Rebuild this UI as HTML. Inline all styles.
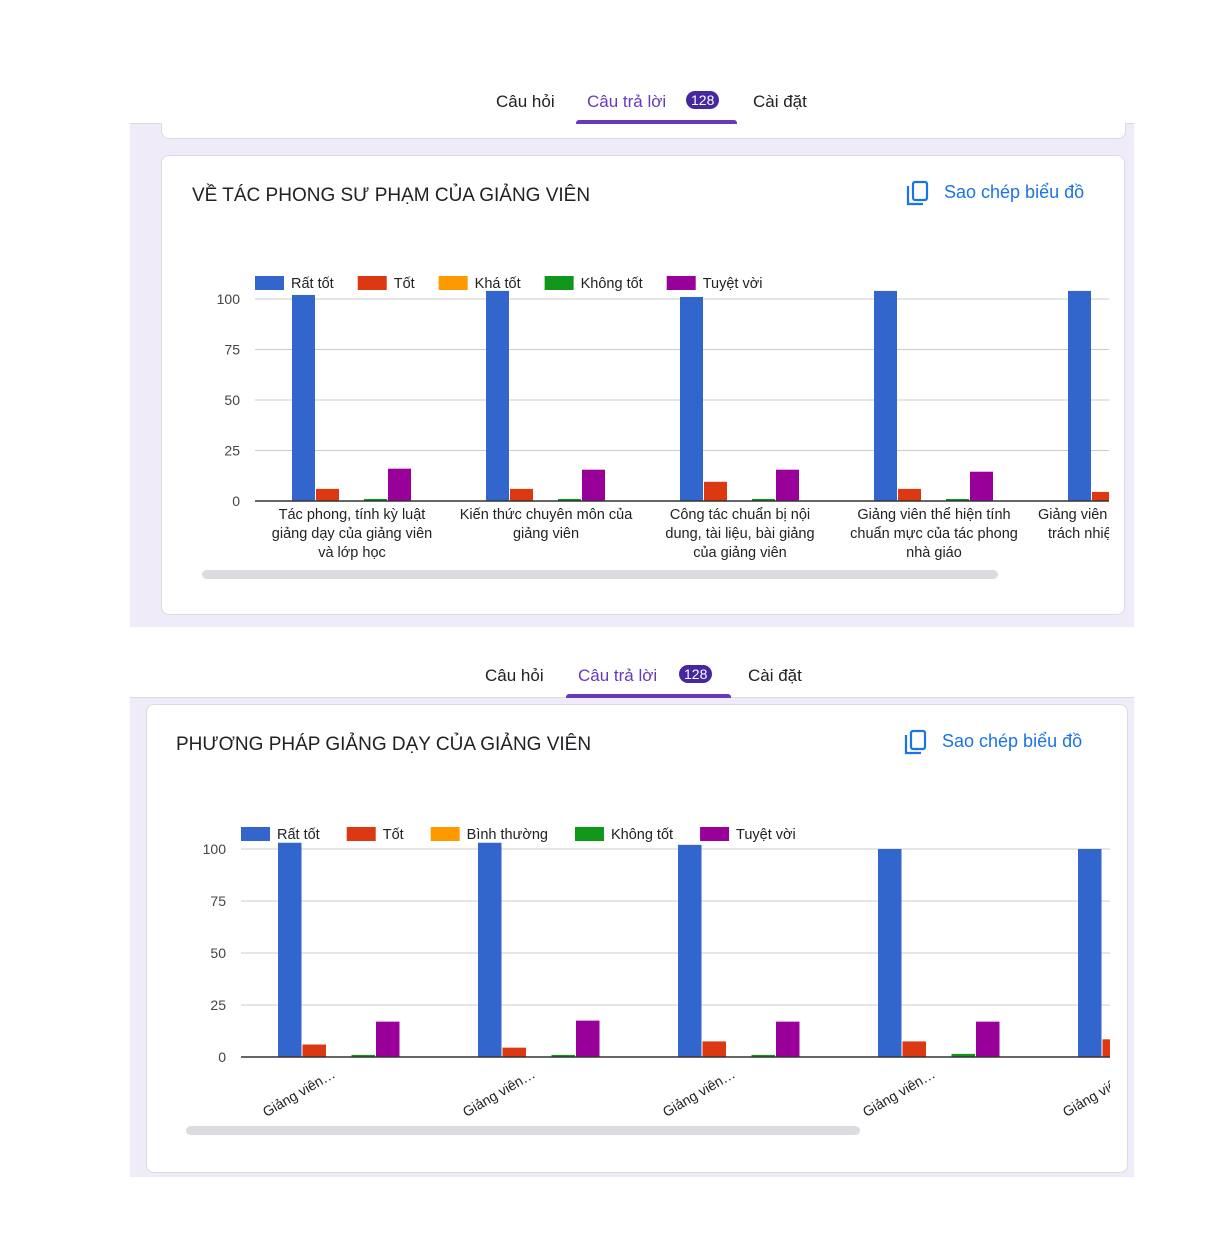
<!DOCTYPE html>
<html><head><meta charset="utf-8">
<style>
body{margin:0;width:1215px;height:1241px;background:#fff;position:relative;overflow:hidden;font-family:"Liberation Sans",sans-serif;}
.abs{position:absolute;}
.bg{background:#f0ebf8;}
.card{background:#fff;border:1px solid #dadce0;border-radius:8px;}
.tab{font-size:17px;color:#202124;}
.tab.act{color:#673ab7;}
.badge{background:#4527a0;color:#fff;border-radius:10px;font-size:14px;padding:1px 5px;}
.title{font-size:19px;color:#202124;}
.copy{font-size:18px;color:#1a73e8;}
svg text{font-family:"Liberation Sans",sans-serif;}
</style></head><body>
<div class="abs bg" style="left:130px;top:124px;width:1004px;height:503px"></div>
<div class="abs" style="left:130px;top:123px;width:1004px;height:1px;background:#dadce0"></div>
<div class="abs card" style="left:161px;top:110px;width:963px;height:28px;border-top:none;border-radius:0 0 8px 8px"></div>
<div class="abs" style="left:0;top:80px;width:1215px;height:43px;background:#fff"></div>
<span class="abs tab" style="left:496px;top:92px">Câu hỏi</span>
<span class="abs tab act" style="left:587px;top:92px">Câu trả lời</span>
<span class="abs badge" style="left:686px;top:91px">128</span>
<span class="abs tab" style="left:753px;top:92px">Cài đặt</span>
<div class="abs" style="left:576px;top:120px;width:161px;height:4px;background:#673ab7;border-radius:3px 3px 0 0"></div>
<div class="abs card" style="left:161px;top:155px;width:962px;height:458px"></div>
<span class="abs title" style="left:192px;top:185px">VỀ TÁC PHONG SƯ PHẠM CỦA GIẢNG VIÊN</span>
<svg class="abs" style="left:906px;top:180px" width="24" height="26"><rect x="7" y="2" width="14" height="18" rx="2" fill="none" stroke="#1a73e8" stroke-width="2.2"/><path d="M2 6 V24 H17" fill="none" stroke="#1a73e8" stroke-width="2.2"/></svg>
<span class="abs copy" style="left:944px;top:182px">Sao chép biểu đồ</span>

<div class="abs" style="left:0;top:627px;width:1215px;height:70px;background:#fff"></div>
<div class="abs bg" style="left:130px;top:698px;width:1004px;height:479px"></div>
<div class="abs" style="left:130px;top:697px;width:1004px;height:1px;background:#dadce0"></div>
<span class="abs tab" style="left:485px;top:666px">Câu hỏi</span>
<span class="abs tab act" style="left:578px;top:666px">Câu trả lời</span>
<span class="abs badge" style="left:679px;top:665px">128</span>
<span class="abs tab" style="left:748px;top:666px">Cài đặt</span>
<div class="abs" style="left:566px;top:694px;width:165px;height:4px;background:#673ab7;border-radius:3px 3px 0 0"></div>
<div class="abs card" style="left:146px;top:704px;width:980px;height:467px"></div>
<span class="abs title" style="left:176px;top:734px">PHƯƠNG PHÁP GIẢNG DẠY CỦA GIẢNG VIÊN</span>
<svg class="abs" style="left:904px;top:729px" width="24" height="26"><rect x="7" y="2" width="14" height="18" rx="2" fill="none" stroke="#1a73e8" stroke-width="2.2"/><path d="M2 6 V24 H17" fill="none" stroke="#1a73e8" stroke-width="2.2"/></svg>
<span class="abs copy" style="left:942px;top:731px">Sao chép biểu đồ</span>

<svg id="chart1" class="abs" style="left:0;top:0" width="1215" height="1241"></svg>
<svg id="chart2" class="abs" style="left:0;top:0" width="1215" height="1241"></svg>

<script>
const colors=["#3366cc","#dc3912","#ff9900","#109618","#990099"];
const series1Names=["Rất tốt","Tốt","Khá tốt","Không tốt","Tuyệt vời"];
const series2Names=["Rất tốt","Tốt","Bình thường","Không tốt","Tuyệt vời"];
const categories1=[["Tác phong, tính kỳ luật","giảng dạy của giảng viên","và lớp học"],["Kiến thức chuyên môn của","giảng viên"],["Công tác chuẩn bị nội","dung, tài liệu, bài giảng","của giảng viên"],["Giảng viên thể hiện tính","chuẩn mực của tác phong","nhà giáo"],["Giảng viên","trách nhiệm"]];
const categories2=["Giảng viên…","Giảng viên…","Giảng viên…","Giảng viên…","Giảng viên…"];
const ticks=[0,25,50,75,100];
const c1RatTot=[102,104,101,104,104];
const c1Tot=[6,6,9.5,6,4.5];
const c1KhaTot=[0,0,0,0,0];
const c1KhongTot=[1,1,1,1,0];
const c1TuyetVoi=[16,15.5,15.5,14.5,0];
const c2RatTot=[103,103,102,100,100];
const c2Tot=[6,4.5,7.5,7.5,8.5];
const c2BinhThuong=[0,0,0,0,0];
const c2KhongTot=[1,1,1,1.5,0];
const c2TuyetVoi=[17,17.5,17,17,0];

const NS="http://www.w3.org/2000/svg";
function mk(svg,tag,attrs){const e=document.createElementNS(NS,tag);for(const k in attrs)e.setAttribute(k,attrs[k]);svg.appendChild(e);return e;}

function draw(cfg){
  const svg=document.getElementById(cfg.id);
  const y=v=>cfg.y0-v*cfg.ppu;
  const x=(g,s)=>cfg.gx0+g*cfg.gw+s*cfg.bw;
  const defs=mk(svg,"defs",{});
  const cp=document.createElementNS(NS,"clipPath");cp.setAttribute("id",cfg.id+"clip");defs.appendChild(cp);
  const r=document.createElementNS(NS,"rect");r.setAttribute("x",cfg.xl);r.setAttribute("y",0);r.setAttribute("width",cfg.xr-cfg.xl);r.setAttribute("height",1241);cp.appendChild(r);
  ticks.forEach(t=>{
    if(t>0){const gl=mk(svg,"line",{x1:cfg.xl,x2:cfg.xr,y1:y(t),y2:y(t),stroke:"#ccc","stroke-width":1});
    
    }
    const tl=mk(svg,"text",{x:cfg.xl-15,y:y(t)+5,"text-anchor":"end","font-size":14,fill:"#444"});tl.textContent=t;
    
    
  });
  const g=mk(svg,"g",{"clip-path":"url(#"+cfg.id+"clip)"});
  cfg.series.forEach((arr,s)=>{
    arr.forEach((v,i)=>{
      if(v<=0)return;
      const b=mk(g,"rect",{x:x(i,s),y:y(v),width:cfg.bw-1,height:v*cfg.ppu,fill:colors[s]});
      
      
    });
  });
  const ax=mk(svg,"line",{x1:cfg.xl,x2:cfg.xr,y1:cfg.y0,y2:cfg.y0,stroke:"#333","stroke-width":1.5});
  
  
  let lx=cfg.legX;
  cfg.names.forEach((n,s)=>{
    const sw=mk(svg,"rect",{x:lx,y:cfg.legY-7,width:29,height:14,fill:colors[s]});
    
    
    const t=mk(svg,"text",{x:lx+36,y:cfg.legY+5,"font-size":14.5,fill:"#222"});t.textContent=n;
    
    
    lx+=36+t.getComputedTextLength()+cfg.legGap;
  });
  const cp2=document.createElementNS(NS,"clipPath");cp2.setAttribute("id",cfg.id+"clip2");defs.appendChild(cp2);
  const r2=document.createElementNS(NS,"rect");r2.setAttribute("x",cfg.xl-100);r2.setAttribute("y",0);r2.setAttribute("width",cfg.xr-cfg.xl+100);r2.setAttribute("height",1241);cp2.appendChild(r2);
  const lg=mk(svg,"g",{"clip-path":"url(#"+cfg.id+"clip2)"});
  cfg.cats.forEach((c,i)=>{
    const cx=x(i,0)+cfg.bw*2.5;
    if(cfg.rotate){
      const px=cx-38, py=cfg.y0+40;
      const t=mk(lg,"text",{x:px,y:py,"text-anchor":"middle","font-size":14,fill:"#222",transform:`rotate(-30 ${px} ${py})`});t.textContent=c;
      
      
    } else {
      const last=i===cfg.cats.length-1;
      c.forEach((line,k)=>{
        const attrs=last?{x:1038+k*10,y:cfg.y0+18+k*19,"font-size":14.5,fill:"#222"}:{x:cx,y:cfg.y0+18+k*19,"text-anchor":"middle","font-size":14.5,fill:"#222"};
        const t=mk(lg,"text",attrs);t.textContent=line;
        
        
      });
    }
  });
  const sb=mk(svg,"rect",{x:cfg.sbX,y:cfg.sbY,width:cfg.sbW,height:9,rx:4.5,fill:"#dadce0"});
  
  
}
draw({id:"chart1",y0:501,ppu:2.02,gx0:292,gw:194,bw:24,xl:255,xr:1109,names:series1Names,cats:categories1,
  series:[c1RatTot,c1Tot,c1KhaTot,c1KhongTot,c1TuyetVoi],legX:255,legY:283,legGap:24,rotate:false,sbX:202,sbY:570,sbW:796});
draw({id:"chart2",y0:1057,ppu:2.08,gx0:278,gw:200,bw:24.5,xl:241,xr:1110,names:series2Names,cats:categories2,
  series:[c2RatTot,c2Tot,c2BinhThuong,c2KhongTot,c2TuyetVoi],legX:241,legY:834,legGap:27,rotate:true,sbX:186,sbY:1126,sbW:674});
</script>
</body></html>
